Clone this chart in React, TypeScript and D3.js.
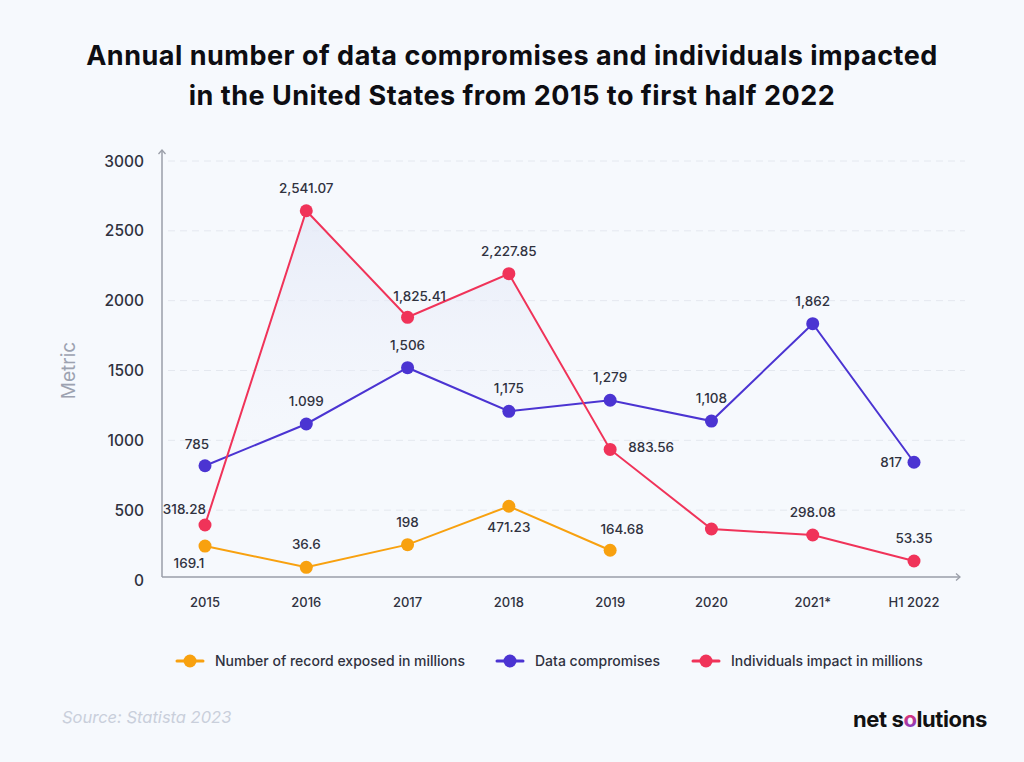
import React from 'react';
import * as d3 from 'd3';

const years = ['2015', '2016', '2017', '2018', '2019', '2020', '2021*', 'H1 2022'];

// plotted positions (labels in the source do not always match them)
const recordsExposed = [243, 91, 253, 528, 213];
const recordsLabels = ['169.1', '36.6', '198', '471.23', '164.68'];

const dataCompromises = [818, 1117, 1520, 1208, 1287, 1138, 1835, 843];
const compromisesLabels = ['785', '1.099', '1,506', '1,175', '1,279', '1,108', '1,862', '817'];

const individualsImpacted = [394, 2644, 1881, 2193, 935, 365, 322, 136];
const individualsLabels = ['318.28', '2,541.07', '1,825.41', '2,227.85', '883.56', '', '298.08', '53.35'];

const yTicks = [0, 500, 1000, 1500, 2000, 2500, 3000];

// where each value label sits relative to its dot
const recordsPlace = ['belowLeft', 'above', 'above', 'below', 'aboveRight'];
const compromisesPlace = ['aboveLeft', 'above', 'above', 'above', 'above', 'above', 'above', 'left'];
const individualsPlace = ['upLeft', 'above', 'aboveRight', 'above', 'right', 'above', 'above', 'above'];

const ORANGE = '#f8a10f';
const BLUE = '#4b34d2';
const RED = '#f03359';
const TEXT = '#30323f';
const BG = '#f6f9fd';

const offsets: Record<string, [number, number, string]> = {
  above: [0, -18, 'middle'],
  below: [0, 26, 'middle'],
  left: [-12, 5, 'end'],
  upLeft: [1, -11, 'end'],
  right: [18, 3, 'start'],
  aboveLeft: [-8, -17, 'middle'],
  belowLeft: [-16, 22, 'middle'],
  aboveRight: [12, -16, 'middle'],
};

const App: React.FC = () => {
  const width = 1024;
  const height = 762;

  const x = d3.scalePoint<string>().domain(years).range([205, 914]);
  const y = d3.scaleLinear().domain([0, 3000]).range([580, 161]);

  const line = d3
    .line<number>()
    .x((_, i) => x(years[i]) as number)
    .y((d) => y(d));

  const between = d3
    .area<number>()
    .x((_, i) => x(years[i]) as number)
    .y0((_, i) => y(dataCompromises[i]))
    .y1((d) => y(d));

  const belowRed = d3
    .area<number>()
    .x((_, i) => x(years[i]) as number)
    .y0(y(0) + 50)
    .y1((d) => y(d));

  const series = [
    { values: recordsExposed, labels: recordsLabels, place: recordsPlace, color: ORANGE },
    { values: dataCompromises, labels: compromisesLabels, place: compromisesPlace, color: BLUE },
    { values: individualsImpacted, labels: individualsLabels, place: individualsPlace, color: RED },
  ];

  const legend = [
    { label: 'Number of record exposed in millions', color: ORANGE, x: 190 },
    { label: 'Data compromises', color: BLUE, x: 510 },
    { label: 'Individuals impact in millions', color: RED, x: 706 },
  ];

  const axisX0 = 162;
  const axisX1 = 960;
  const axisY = y(0) - 3;

  return (
    <div style={{ position: 'absolute', left: 0, top: 0 }}>
      <svg width={width} height={height} style={{ display: 'block', background: BG }}>
        <defs>
          <linearGradient id="shade" gradientUnits="userSpaceOnUse" x1="0" y1={y(2650)} x2="0" y2={y(1100)}>
            <stop offset="0%" stopColor="#e4e9f7" stopOpacity={0.8} />
            <stop offset="100%" stopColor="#edf0fa" stopOpacity={0.2} />
          </linearGradient>
          <clipPath id="under-red">
            <path d={belowRed(individualsImpacted) || ''} />
          </clipPath>
          <linearGradient id="logo-o" x1="0" y1="0" x2="1" y2="1">
            <stop offset="0%" stopColor="#f5a623" />
            <stop offset="35%" stopColor="#e8336e" />
            <stop offset="70%" stopColor="#6b3fd6" />
            <stop offset="100%" stopColor="#2fb5e8" />
          </linearGradient>
        </defs>

        <g fontFamily="Inter, 'Noto Sans', sans-serif">
          <text x={512} y={65} textAnchor="middle" fontSize={27} fontWeight={700} fill="#0d0d12" letterSpacing={0.5}>
            Annual number of data compromises and individuals impacted
          </text>
          <text x={512} y={105} textAnchor="middle" fontSize={27} fontWeight={700} fill="#0d0d12" letterSpacing={0.5}>
            in the United States from 2015 to first half 2022
          </text>

          {/* grid */}
          {yTicks.filter((t) => t > 0).map((t) => (
            <line key={t} x1={168} x2={965} y1={y(t)} y2={y(t)} stroke="#e4e8ef" strokeWidth={1} strokeDasharray="7 5" />
          ))}

          {/* y tick labels */}
          {yTicks.map((t) => (
            <text key={t} x={144} y={y(t) + 5.5} textAnchor="end" fontSize={15.5} fontWeight={500} fill={TEXT}>
              {t}
            </text>
          ))}
          <text
            transform={`translate(75, ${y(1500)}) rotate(-90)`}
            textAnchor="middle"
            fontSize={19}
            fill="#9ca2b0"
          >
            Metric
          </text>

          {/* shaded region between red and blue */}
          <path d={between(individualsImpacted) || ''} fill="url(#shade)" clipPath="url(#under-red)" />

          {/* axes */}
          <line x1={axisX0} x2={axisX0} y1={axisY} y2={150} stroke="#9a9ea8" strokeWidth={1.5} />
          <path d={`M${axisX0 - 3.5},${154} L${axisX0},${150} L${axisX0 + 3.5},${154}`} fill="none" stroke="#9a9ea8" strokeWidth={1.3} />
          <line x1={axisX0} x2={axisX1} y1={axisY} y2={axisY} stroke="#9a9ea8" strokeWidth={1.5} />
          <path d={`M${axisX1 - 4},${axisY - 3.5} L${axisX1},${axisY} L${axisX1 - 4},${axisY + 3.5}`} fill="none" stroke="#9a9ea8" strokeWidth={1.3} />

          {years.map((yr) => (
            <text key={yr} x={x(yr)} y={607} textAnchor="middle" fontSize={13} fontWeight={500} fill={TEXT}>
              {yr}
            </text>
          ))}

          {/* lines */}
          {series.map((s, si) => (
            <path key={si} d={line(s.values) || ''} fill="none" stroke={s.color} strokeWidth={2} />
          ))}

          {/* dots and labels */}
          {series.map((s, si) => (
            <g key={si}>
              {s.values.map((v, i) => (
                <circle key={i} cx={x(years[i])} cy={y(v)} r={6.5} fill={s.color} />
              ))}
              {s.values.map((v, i) => {
                const [dx, dy, anchor] = offsets[s.place[i]];
                return (
                  <text
                    key={`l${i}`}
                    x={(x(years[i]) as number) + dx}
                    y={y(v) + dy}
                    textAnchor={anchor}
                    fontSize={13.5}
                    fontWeight={500}
                    fill={TEXT}
                  >
                    {s.labels[i]}
                  </text>
                );
              })}
            </g>
          ))}

          {/* legend */}
          {legend.map((l) => (
            <g key={l.label} transform={`translate(${l.x}, 661)`}>
              <line x1={-13} x2={13} y1={0} y2={0} stroke={l.color} strokeWidth={3} strokeLinecap="round" />
              <circle r={6.5} fill={l.color} />
              <text x={25} y={5} fontSize={14} fontWeight={500} fill={TEXT}>
                {l.label}
              </text>
            </g>
          ))}

          <text x={62} y={723} fontSize={16.5} fontStyle="italic" fill="#c9cfdb">
            Source: Statista 2023
          </text>

          <text x={853} y={727} fontSize={22} fontWeight={700} fill="#111" letterSpacing={-0.4}>
            net s<tspan fill="url(#logo-o)">o</tspan>lutions
          </text>
        </g>
      </svg>
    </div>
  );
};

export default App;
